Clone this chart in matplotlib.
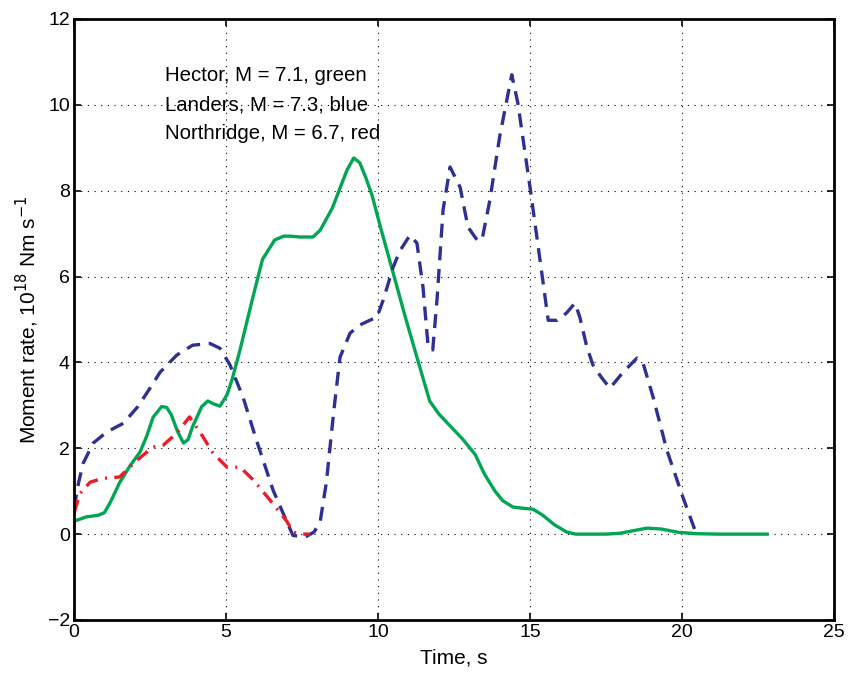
import matplotlib
matplotlib.use("Agg")
import matplotlib.pyplot as plt

plt.rcParams['font.family'] = ['Liberation Sans', 'DejaVu Sans']

# Hector, M = 7.1 (green)
hector_t = [0.0, 0.4, 0.8, 1.0, 1.2, 1.5, 1.85, 2.17, 2.4, 2.6, 2.88, 3.05, 3.2, 3.4, 3.6, 3.75, 3.9,
            4.2, 4.4, 4.6, 4.8, 5.03, 5.2, 5.46, 5.86, 6.2, 6.6, 6.9, 7.1, 7.43, 7.86, 8.1, 8.5, 8.98,
            9.2, 9.4, 9.6, 9.8, 10.1, 10.5, 10.9, 11.28, 11.7, 12.0, 12.4, 12.8, 13.2, 13.5, 13.85,
            14.1, 14.44, 14.8, 15.1, 15.4, 15.8, 16.2, 16.5, 17.0, 17.5, 17.96, 18.4, 18.85, 19.3,
            19.9, 20.5, 21.2, 21.9, 22.8]
hector_v = [0.3, 0.4, 0.44, 0.5, 0.75, 1.2, 1.6, 1.91, 2.3, 2.72, 2.97, 2.95, 2.78, 2.4, 2.12, 2.2, 2.5,
            2.97, 3.1, 3.03, 2.98, 3.24, 3.6, 4.29, 5.45, 6.4, 6.85, 6.94, 6.94, 6.92, 6.92, 7.08, 7.6, 8.48,
            8.76, 8.65, 8.3, 7.9, 7.1, 6.08, 5.05, 4.12, 3.1, 2.8, 2.5, 2.2, 1.85, 1.4, 1.0,
            0.78, 0.63, 0.6, 0.58, 0.45, 0.22, 0.05, 0.0, 0.0, 0.0, 0.02, 0.08, 0.14, 0.12,
            0.04, 0.01, 0.0, 0.0, 0.0]

# Landers, M = 7.3 (blue)
landers_t = [0.0, 0.15, 0.3, 0.63, 1.08, 1.62, 2.1, 2.5, 2.83, 3.38, 3.9, 4.47, 4.8, 5.13, 5.56, 6.0,
             6.55, 6.9, 7.2, 7.6, 7.9, 8.1, 8.3, 8.55, 8.75, 9.08, 9.4, 9.97, 10.17, 10.5, 10.72, 11.05,
             11.28, 11.48, 11.65, 11.8, 11.94, 12.14, 12.37, 12.7, 12.96, 13.26, 13.42, 13.68, 14.0,
             14.4, 14.6, 15.0, 15.33, 15.6, 15.9, 16.2, 16.48, 16.64, 16.87, 17.07, 17.35, 17.63,
             18.06, 18.52, 18.72, 19.05, 19.5, 20.03, 20.5]
landers_v = [0.6, 1.2, 1.65, 2.12, 2.38, 2.58, 2.97, 3.4, 3.77, 4.17, 4.4, 4.44, 4.33, 3.94, 3.19, 2.19,
             1.02, 0.45, -0.03, -0.07, 0.05, 0.3, 1.2, 2.9, 4.12, 4.68, 4.87, 5.06, 5.45, 6.22, 6.6, 6.96,
             6.78, 5.75, 4.36, 4.29, 5.45, 7.55, 8.55, 8.08, 7.15, 6.85, 6.85, 7.78, 9.25,
             10.7, 10.04, 8.08, 6.38, 4.98, 4.98, 5.15, 5.38, 5.05, 4.36, 3.94, 3.65, 3.4,
             3.77, 4.1, 3.98, 3.19, 1.96, 0.86, -0.05]

# Northridge, M = 6.7 (red)
northridge_t = [0.0, 0.2, 0.53, 0.95, 1.5, 2.07, 2.6, 2.93, 3.38, 3.8, 4.14, 4.57, 5.03, 5.46, 5.9,
                6.45, 7.0, 7.2, 7.5, 7.76]
northridge_v = [0.5, 0.95, 1.21, 1.3, 1.33, 1.72, 2.03, 2.07, 2.35, 2.73, 2.38, 1.89, 1.56, 1.56, 1.26,
                0.79, 0.3, 0.05, 0.0, 0.0]

fig = plt.figure(figsize=(8.51, 6.75), dpi=100)
ax = fig.add_axes([0.087, 0.0815, 0.893, 0.8905])

ax.plot(hector_t, hector_v, color='#00a651', lw=2.4, solid_joinstyle='round')
ax.plot(landers_t, landers_v, color='#2e3192', lw=2.4, dashes=(4.2, 2.6))
ax.plot(northridge_t, northridge_v, color='#ed1c24', lw=2.4, dashes=(4, 2.2, 0.6, 2.2))

ax.set_xlim(0, 25)
ax.set_ylim(-2, 12)
ax.set_xticks(range(0, 26, 5))
ax.set_yticks(range(-2, 13, 2))
ax.set_yticklabels(['\u22122'] + [str(v) for v in range(0, 13, 2)])
ax.grid(True, color='black', linestyle=(0, (1, 5)), linewidth=0.8)
ax.tick_params(direction='in', top=True, right=True, length=5, width=1.2, labelsize=14, pad=3)
for s in ax.spines.values():
    s.set_linewidth(2)

ax.set_xlabel('Time, s', fontsize=15, labelpad=5)
ax.set_ylabel('Moment rate, 10$^{18}$ Nm s$^{-1}$', fontsize=15, labelpad=5)

ax.text(3.0, 10.0, 'Hector, M = 7.1, green\nLanders, M = 7.3, blue\nNorthridge, M = 6.7, red',
        fontsize=14.7, va='center', ha='left', linespacing=1.68)

fig.savefig('out.png', dpi=100)
